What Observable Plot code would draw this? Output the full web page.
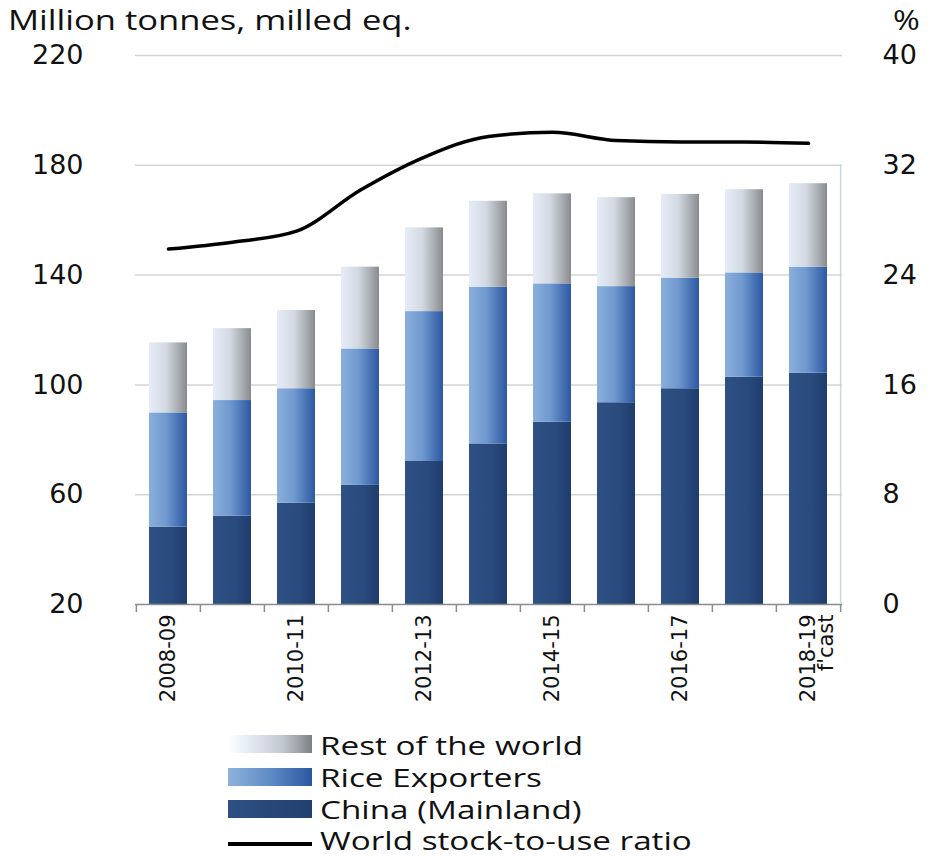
<!DOCTYPE html>
<html><head><meta charset="utf-8">
<script src="https://cdn.jsdelivr.net/npm/d3@7"></script>
<script src="https://cdn.jsdelivr.net/npm/@observablehq/plot@0.6"></script>
<style>
body{margin:0;background:#fff;}
#wrap{position:relative;width:930px;height:856px;font-family:"Open Sans",sans-serif;color:#111}
#chart{position:absolute;left:0;top:0}
.hdr{position:absolute;top:2px;font-size:27px;line-height:36px;white-space:nowrap;transform-origin:0 0}
.sw{position:absolute;left:228px;width:84px;height:18px}
.lt{position:absolute;left:320px;font-size:25px;line-height:26px;white-space:nowrap;transform:scaleX(1.33);transform-origin:0 0}
</style></head>
<body>
<div id="wrap">
  <div id="chart"></div>
  <div class="hdr" style="left:8px;transform:scaleX(1.28)">Million tonnes, milled eq.</div>
  <div class="hdr" style="left:893px;transform:scaleX(1.2)">%</div>
  <div class="sw" style="top:735px;background:linear-gradient(to right,#ffffff 0%,#dfe7f1 30%,#c3c8cf 65%,#7f8084 100%)"></div>
  <div class="lt" style="top:732px">Rest of the world</div>
  <div class="sw" style="top:768px;background:linear-gradient(to right,#8fb2dc 0%,#5f8cc6 50%,#2c57a0 100%)"></div>
  <div class="lt" style="top:764px">Rice Exporters</div>
  <div class="sw" style="top:800px;background:linear-gradient(to right,#2e5083 0%,#22406f 100%)"></div>
  <div class="lt" style="top:796px">China (Mainland)</div>
  <div class="sw" style="top:842px;height:3.5px;background:#000"></div>
  <div class="lt" style="top:827px">World stock-to-use ratio</div>
</div>
<script>
const years = ["2008-09","2009-10","2010-11","2011-12","2012-13","2013-14","2014-15","2015-16","2016-17","2017-18","2018-19"];
const seriesNames = ["China (Mainland)","Rice Exporters","Rest of the world"];
const china = [48.2, 52.2, 56.9, 63.4, 72.1, 78.5, 86.4, 93.5, 98.6, 102.8, 104.3];
const riceExporters = [41.6, 42.1, 41.7, 49.7, 54.6, 57.1, 50.4, 42.3, 40.3, 38.0, 38.6];
const restOfWorld = [25.5, 26.2, 28.5, 29.8, 30.5, 31.3, 32.8, 32.4, 30.5, 30.3, 30.4];
const stockToUse = [25.9, 26.4, 27.2, 30.2, 32.6, 34.1, 34.4, 33.8, 33.7, 33.7, 33.6];
const leftTicks = [20, 60, 100, 140, 180, 220];
const rightTicks = [0, 8, 16, 24, 32, 40];
const xLabelYears = ["2008-09","2010-11","2012-13","2014-15","2016-17","2018-19"];

const toLeft = p => 20 + p * 5;   // % axis (0..40) mapped onto tonnes axis (20..220)
const stackData = [];
years.forEach((y, i) => {
  stackData.push({year: y, series: seriesNames[0], value: china[i]});
  stackData.push({year: y, series: seriesNames[1], value: riceExporters[i]});
  stackData.push({year: y, series: seriesNames[2], value: restOfWorld[i]});
});
const lineData = years.map((y, i) => ({year: y, ratio: stockToUse[i]}));

const W = 930, H = 725, mL = 135, mR = 88, mT = 55, mB = 121;
const step = (W - mL - mR) / years.length;

function defs() {
  const ns = "http://www.w3.org/2000/svg";
  const d = document.createElementNS(ns, "defs");
  d.innerHTML = `
  <linearGradient id="gChina" x1="0" x2="1" y1="0" y2="0">
    <stop offset="0" stop-color="#2e5084"/><stop offset="0.6" stop-color="#284a7c"/><stop offset="1" stop-color="#1f3d6c"/>
  </linearGradient>
  <linearGradient id="gRice" x1="0" x2="1" y1="0" y2="0">
    <stop offset="0" stop-color="#8bafdb"/><stop offset="0.45" stop-color="#6f99cf"/><stop offset="1" stop-color="#2b58a2"/>
  </linearGradient>
  <linearGradient id="gRow" x1="0" x2="1" y1="0" y2="0">
    <stop offset="0" stop-color="#e6edf6"/><stop offset="0.45" stop-color="#d3d9e2"/><stop offset="1" stop-color="#8a8b8f"/>
  </linearGradient>`;
  return d;
}

const chart = Plot.plot({
  width: W, height: H,
  marginTop: mT, marginBottom: mB, marginLeft: mL, marginRight: mR,
  style: {fontFamily: "DejaVu Sans", fontSize: "27px", color: "#111", background: "transparent", overflow: "visible"},
  x: {type: "band", domain: years, paddingInner: 0.4, paddingOuter: 0.2, axis: null},
  y: {domain: [20, 220], axis: null},
  color: {type: "ordinal", domain: seriesNames, range: ["url(#gChina)", "url(#gRice)", "url(#gRow)"]},
  marks: [
    defs,
    Plot.gridY(leftTicks.slice(1), {stroke: "#d4d4d4", strokeOpacity: 1, strokeWidth: 1.5}),
    Plot.barY(stackData, {x: "year", y: "value", fill: "series", clip: true}),
    Plot.ruleY([20], {stroke: "#8c8c8c", strokeWidth: 1.5}),
    Plot.ruleX([years[years.length - 1]], {dx: step / 2, y1: 20, y2: 180, stroke: "#c9d6e6", strokeWidth: 1.5}),
    Plot.axisX({ticks: years, tickSize: 8, tickFormat: () => "", dx: -step / 2, stroke: "#8c8c8c", strokeWidth: 1.5, label: null}),
    Plot.axisX({ticks: [years[years.length - 1]], tickSize: 8, tickFormat: () => "", dx: step / 2, stroke: "#8c8c8c", strokeWidth: 1.5, label: null}),
    Plot.axisX({ticks: xLabelYears, tickSize: 0, tickRotate: -90, tickPadding: 10, fontSize: 21, tickFormat: d => d, label: null}),
    Plot.text([years[years.length - 1]], {x: d => d, frameAnchor: "bottom", text: () => "f'cast", rotate: -90, textAnchor: "end", dy: 10, dx: 24, fontSize: 21, fill: "#111"}),
    Plot.axisY({anchor: "left", ticks: leftTicks, tickSize: 0, tickPadding: 52, label: null}),
    Plot.axisY({anchor: "right", ticks: rightTicks.map(toLeft), tickSize: 0, tickPadding: 40, tickFormat: d => String((d - 20) / 5), label: null}),
    Plot.line(lineData, {x: "year", y: d => toLeft(d.ratio), stroke: "#000", strokeWidth: 3.5, curve: "monotone-x"})
  ]
});
document.getElementById("chart").appendChild(chart);
</script>
</body></html>
